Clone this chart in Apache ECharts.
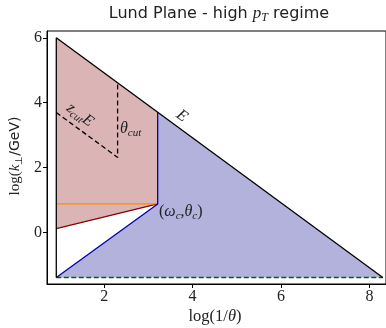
<!DOCTYPE html>
<html>
<head>
<meta charset="utf-8">
<script src="https://cdn.jsdelivr.net/npm/echarts@6/dist/echarts.min.js"></script>
<style>
  html, body { margin: 0; padding: 0; background: #fff; }
  #chart { width: 386px; height: 328px; }
</style>
</head>
<body>
<div id="chart"></div>
<script>
// data (log units)
const xTicks = [2, 4, 6, 8]
const yTicks = [0, 2, 4, 6]
const redRegion = [[0.916, 6], [3.21, 3.706], [3.21, 0.88], [0.916, 0.12]]
const blueRegion = [[0.916, -1.386], [3.21, 0.88], [3.21, 3.706], [8.302, -1.386]]
const eLine = [[0.916, 6], [8.302, -1.386]]
const leftEdge = [[0.916, 6], [0.916, -1.386]]
const blueLine = [[0.916, -1.386], [3.21, 0.88], [3.21, 3.706]]
const redLine = [[0.916, 0.12], [3.21, 0.88]]
const orangeLine = [[0.916, 0.88], [3.21, 0.88]]
const cutLine = [[0.916, 3.70], [2.303, 2.313], [2.303, 4.613]]
const greenLine = [[0.916, -1.386], [8.302, -1.386]]

const SERIF = '"Liberation Serif", serif'
const SANS = '"DejaVu Sans", sans-serif'
const TXT = '#222'

const ctx = document.createElement('canvas').getContext('2d')
function measure (text, font) {
  ctx.font = font
  return ctx.measureText(text).width
}

// builds a row of text pieces (for subscripts / italics)
function mathText (parts, x, y, rot, center) {
  let cx = 0
  const children = []
  parts.forEach(p => {
    const font = (p.it ? 'italic ' : '') + p.size + 'px ' + (p.fam || SERIF)
    children.push({
      type: 'text',
      x: cx,
      y: p.dy || 0,
      z: 20,
      style: { text: p.t, font: font, fill: TXT, align: 'left', verticalAlign: 'middle' }
    })
    cx += measure(p.t, font)
  })
  if (center) {
    children.forEach(c => { c.x -= cx / 2 })
  }
  return { type: 'group', x: x, y: y, z: 20, rotation: rot || 0, children: children }
}

function polygon (pts, color) {
  return {
    type: 'custom',
    silent: true,
    data: pts,
    z: 1,
    renderItem (params, api) {
      if (params.dataIndex !== 0) return null
      return {
        type: 'polygon',
        shape: { points: pts.map(p => api.coord(p)) },
        style: { fill: color }
      }
    }
  }
}

function line (pts, color, width, dash) {
  return {
    type: 'line',
    data: pts,
    symbol: 'none',
    silent: true,
    z: 3,
    lineStyle: { color: color, width: width, type: dash || 'solid' }
  }
}

const chart = echarts.init(document.getElementById('chart'))
const rot = -Math.atan(32.45 / 44.5)

chart.setOption({
  animation: false,
  grid: {
    left: 47, top: 31, right: -2, bottom: 44,
    show: true, borderColor: '#000', borderWidth: 1
  },
  xAxis: {
    type: 'value',
    min: 0.706,
    max: 8.375,
    splitLine: { show: false },
    axisLine: { onZero: false, lineStyle: { color: '#000', width: 1 } },
    axisTick: { customValues: xTicks, length: 4, lineStyle: { color: '#000' } },
    axisLabel: { customValues: xTicks, fontFamily: SERIF, fontSize: 16, color: TXT, margin: 5 }
  },
  yAxis: {
    type: 'value',
    min: -1.586,
    max: 6.21,
    splitLine: { show: false },
    axisLine: { onZero: false, lineStyle: { color: '#000', width: 1 } },
    axisTick: { customValues: yTicks, length: 4, lineStyle: { color: '#000' } },
    axisLabel: { customValues: yTicks, fontFamily: SERIF, fontSize: 16, color: TXT, margin: 5 }
  },
  series: [
    polygon(redRegion, '#dbb4b5'),
    polygon(blueRegion, '#b2b2dc'),
    line(greenLine, '#006400', 1.3, [5, 2.5]),
    line(redLine, '#8b0000', 1.3),
    line(orangeLine, '#ff8c00', 1.2),
    line(blueLine, '#0000aa', 1.3),
    line(eLine, '#000', 1.3),
    line(leftEdge, '#000', 1.3),
    line(cutLine, '#000', 1.3, [5, 3])
  ],
  graphic: [
    mathText([
      { t: 'Lund Plane - high ', size: 16, fam: SANS },
      { t: 'p', size: 17, it: true },
      { t: 'T', size: 12, it: true, dy: 4 },
      { t: ' regime', size: 16, fam: SANS }
    ], 219, 14, 0, true),
    mathText([
      { t: 'log(', size: 15 },
      { t: 'k', size: 15, it: true },
      { t: '⊥', size: 10, dy: 4 },
      { t: '/GeV)', size: 14, fam: SANS }
    ], 15, 156, Math.PI / 2, true),
    mathText([
      { t: 'log(1/', size: 16.5 },
      { t: 'θ', size: 16.5, it: true },
      { t: ')', size: 16.5 }
    ], 215, 317, 0, true),
    mathText([
      { t: 'z', size: 16, it: true },
      { t: 'cut', size: 11, it: true, dy: 4 },
      { t: 'E', size: 16, it: true }
    ], 80, 115, rot, true),
    mathText([
      { t: 'θ', size: 16, it: true },
      { t: 'cut', size: 11, it: true, dy: 4 }
    ], 120, 129, 0, false),
    mathText([
      { t: 'E', size: 16, it: true }
    ], 182, 116, rot, true),
    mathText([
      { t: '(', size: 16 },
      { t: 'ω', size: 16, it: true },
      { t: 'c', size: 11, it: true, dy: 4 },
      { t: ',', size: 16 },
      { t: 'θ', size: 16, it: true },
      { t: 'c', size: 11, it: true, dy: 4 },
      { t: ')', size: 16 }
    ], 159, 212, 0, false)
  ]
})
</script>
</body>
</html>
